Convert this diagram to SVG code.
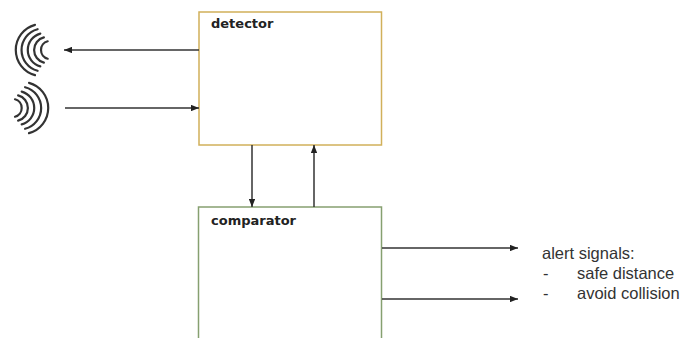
<svg xmlns="http://www.w3.org/2000/svg" width="688" height="338" viewBox="0 0 688 338">
<style>
.box{fill:#fff;stroke-width:1.5}
.det{stroke:#d1b05a}
.cmp{stroke:#86a070}
.lbl{font-family:"DejaVu Sans",sans-serif;font-weight:bold;font-size:13px;fill:#222}
.txt{font-family:"Liberation Sans",Arial,sans-serif;font-size:16.5px;fill:#333}
.con{stroke:#333;stroke-width:1.5;fill:none;marker-end:url(#ah)}
.wave{stroke:#333;stroke-width:2.2;fill:none;stroke-linecap:round}
</style>
<defs>
<marker id="ah" viewBox="0 0 10 8" refX="10" refY="4" markerWidth="8" markerHeight="6.4" markerUnits="userSpaceOnUse" orient="auto">
<path d="M0,0 L10,4 L0,8 z" fill="#222"/>
</marker>
</defs>
<rect width="688" height="338" fill="#fff"/>
<g id="wave-out">
<path class="wave" d="M35,24.9 A26,26 0 0,0 35,75.1"/>
<path class="wave" d="M37.6,29.2 A21.5,21.5 0 0,0 37.6,70.8"/>
<path class="wave" d="M40.3,33.6 A17,17 0 0,0 40.3,66.4"/>
<path class="wave" d="M43.9,37.4 A13,13 0 0,0 43.9,62.6"/>
<path class="wave" d="M47.7,41.3 A9,9 0 0,0 47.7,58.7"/>
</g>
<g id="wave-in">
<path class="wave" d="M29,82.9 A26,26 0 0,1 29,133.1"/>
<path class="wave" d="M25.1,87.2 A21.5,21.5 0 0,1 25.1,128.8"/>
<path class="wave" d="M21.7,91.6 A17,17 0 0,1 21.7,124.4"/>
<path class="wave" d="M18.1,95.4 A13,13 0 0,1 18.1,120.6"/>
<path class="wave" d="M15,99.3 A9,9 0 0,1 15,116.7"/>
</g>
<g id="detector">
<rect class="box det" x="199" y="12" width="182.5" height="133"/>
<text class="lbl" x="211" y="28">detector</text>
</g>
<g id="comparator">
<rect class="box cmp" x="198.5" y="207" width="183" height="140"/>
<text class="lbl" x="211" y="225">comparator</text>
</g>
<g id="connectors">
<line class="con" x1="199" y1="50" x2="64" y2="50"/>
<line class="con" x1="65" y1="108" x2="199" y2="108"/>
<line class="con" x1="252" y1="145" x2="252" y2="207"/>
<line class="con" x1="314" y1="207" x2="314" y2="145"/>
<line class="con" x1="382" y1="248" x2="518" y2="248"/>
<line class="con" x1="382" y1="299" x2="518" y2="299"/>
</g>
<g id="alert-text">
<text class="txt" x="542" y="259">alert signals:</text>
<text class="txt" x="543" y="279">-</text>
<text class="txt" x="577" y="279">safe distance</text>
<text class="txt" x="543" y="299">-</text>
<text class="txt" x="577" y="299">avoid collision</text>
</g>
</svg>
